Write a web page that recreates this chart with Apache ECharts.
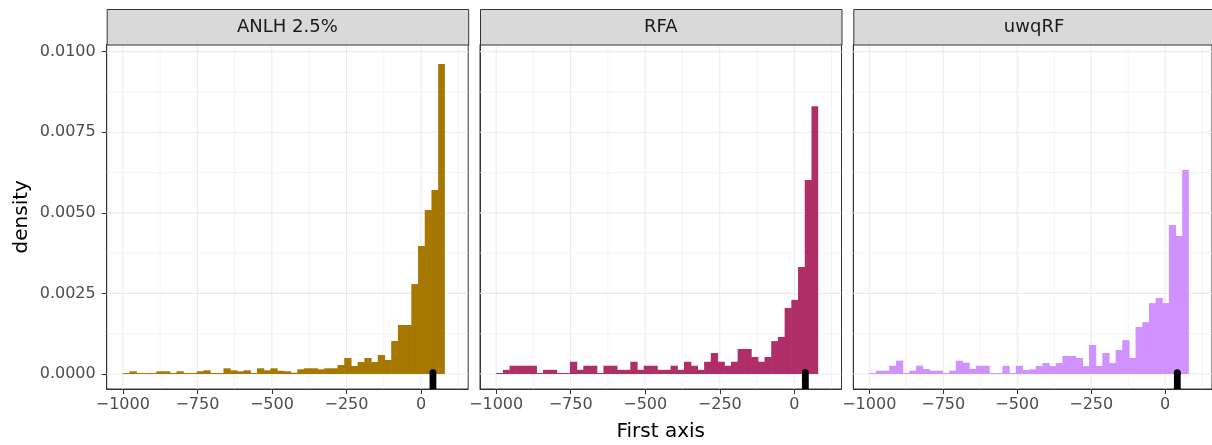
<!DOCTYPE html>
<html>
<head>
<meta charset="utf-8">
<script src="https://cdn.jsdelivr.net/npm/echarts@6/dist/echarts.min.js"></script>
<style>html,body{margin:0;padding:0;background:#fff;}#c{width:1212px;height:445px;}</style>
</head>
<body>
<div id="c"></div>
<script>
// ---- data ----
const panelNames = ['ANLH 2.5%', 'RFA', 'uwqRF'];
const binStart = -1000;
const binWidth = 22.5;
const densityANLH = [
  0.00003,0.000084,0.00003,0.00003,0.00003,0.000084,0.000084,0.00003,0.000084,0.00003,
  0.00003,0.000084,0.000115,0.00003,0.00003,0.000177,0.000115,0.000084,0.000115,0.00003,
  0.000177,0.000115,0.000177,0.0001,0.000084,0.00004,0.000146,0.000177,0.000177,0.000146,
  0.000177,0.000177,0.00028,0.000496,0.000248,0.000372,0.000496,0.000372,0.000589,0.000434,
  0.001024,0.00152,0.00152,0.00279,0.00397,0.00509,0.00571,0.00962
];
const densityRFA = [
  0.00003,0.00013,0.000257,0.000257,0.000257,0.000257,0.00003,0.00013,0.00013,0.00003,
  0.00003,0.00038,0.00013,0.000257,0.000257,0.00003,0.000257,0.000257,0.00013,0.00013,
  0.00038,0.00013,0.000257,0.000257,0.00013,0.00013,0.000257,0.00013,0.00038,0.000257,
  0.00013,0.00038,0.00065,0.00038,0.000257,0.00038,0.000776,0.000776,0.000527,0.00038,
  0.000527,0.00102,0.00115,0.00205,0.0023,0.00332,0.00602,0.00831
];
const densityUwqRF = [
  0.00003,0.000102,0.000102,0.000257,0.000413,0.00003,0.000102,0.000257,0.000155,0.000102,
  0.000102,0.00003,0.000102,0.000413,0.00035,0.000155,0.000257,0.000257,0.00003,0.00003,
  0.000257,0.00003,0.000257,0.000124,0.000146,0.000248,0.000341,0.000248,0.000341,0.000558,
  0.000558,0.000496,0.000248,0.0009,0.000248,0.000651,0.000341,0.000744,0.00105,0.000496,
  0.00146,0.00161,0.0022,0.00236,0.0022,0.00462,0.00428,0.00633
];
const markerX = [40, 37, 41];
const markerTop = 0.00004;
const xTicks = [-1000, -750, -500, -250, 0];
const xMinorTicks = [-875, -625, -375, -125, 125];
const yTicks = [0, 0.0025, 0.005, 0.0075, 0.01];
const yMinorTicks = [0.00125, 0.00375, 0.00625, 0.00875];

// ---- styling / layout ----
const colors = ['#A67800', '#B02E68', '#D092FF'];
const densities = [densityANLH, densityRFA, densityUwqRF];
const gridLefts = [106.7, 480, 853.3];
const gridWidth = 361.5;
const gridTop = 44.5;
const gridHeight = 344.5;
const xMin = -1054, xMax = 158.2;
const yMin = -0.000465, yMax = 0.010222;
const FONT = 'DejaVu Sans';

const chart = echarts.init(document.getElementById('c'), null, {renderer: 'canvas'});

const grids = [], xAxes = [], yAxes = [], series = [], graphics = [];

function gridLineSeries(i, values, vertical, width) {
  return {
    type: 'custom', xAxisIndex: i, yAxisIndex: i, z: 1, silent: true,
    data: values.map(v => vertical ? [v, 0] : [0, v]),
    renderItem: function (params, api) {
      const cs = params.coordSys;
      if (vertical) {
        const px = api.coord([api.value(0), 0])[0];
        return {type: 'line', shape: {x1: px, y1: cs.y, x2: px, y2: cs.y + cs.height},
          style: {stroke: '#EBEBEB', lineWidth: width}};
      } else {
        const py = api.coord([0, api.value(1)])[1];
        return {type: 'line', shape: {x1: cs.x, y1: py, x2: cs.x + cs.width, y2: py},
          style: {stroke: '#EBEBEB', lineWidth: width}};
      }
    }
  };
}

for (let i = 0; i < 3; i++) {
  grids.push({left: gridLefts[i], top: gridTop, width: gridWidth, height: gridHeight,
    show: true, borderColor: '#333333', borderWidth: 1, backgroundColor: '#ffffff', containLabel: false});
  xAxes.push({
    type: 'value', gridIndex: i, min: xMin, max: xMax, position: 'bottom',
    axisLine: {show: true, onZero: false, lineStyle: {color: '#333333', width: 1}},
    splitLine: {show: false},
    axisTick: {show: true, length: 5, lineStyle: {color: '#333333', width: 1}, customValues: xTicks},
    axisLabel: {show: true, customValues: xTicks, margin: 8, color: '#4D4D4D', fontSize: 16, fontFamily: FONT,
      formatter: v => (v < 0 ? '\u2212' + Math.abs(v) : String(v))}
  });
  yAxes.push({
    type: 'value', gridIndex: i, min: yMin, max: yMax, position: 'left',
    axisLine: {show: true, onZero: false, lineStyle: {color: '#333333', width: 1}},
    splitLine: {show: false},
    axisTick: {show: i === 0, length: 5, lineStyle: {color: '#333333', width: 1}, customValues: yTicks},
    axisLabel: {show: i === 0, customValues: yTicks, margin: 11, color: '#4D4D4D', fontSize: 16, fontFamily: FONT,
      formatter: v => v.toFixed(4)}
  });

  series.push(gridLineSeries(i, xMinorTicks, true, 0.6));
  series.push(gridLineSeries(i, yMinorTicks, false, 0.6));
  series.push(gridLineSeries(i, xTicks, true, 1.1));
  series.push(gridLineSeries(i, yTicks, false, 1.1));

  const col = colors[i];
  series.push({
    type: 'custom', xAxisIndex: i, yAxisIndex: i, z: 2, silent: true,
    data: densities[i].map((d, k) => [binStart + k * binWidth, binStart + (k + 1) * binWidth, d]),
    encode: {x: [0, 1], y: 2},
    renderItem: function (params, api) {
      const p0 = api.coord([api.value(0), api.value(2)]);
      const p1 = api.coord([api.value(1), 0]);
      const last = params.dataIndex === params.dataInsideLength - 1;
      return {type: 'rect', shape: {x: p0[0], y: p0[1], width: p1[0] - p0[0] + (last ? 0 : 0.6), height: p1[1] - p0[1]},
        style: {fill: col}};
    }
  });

  series.push({
    type: 'custom', xAxisIndex: i, yAxisIndex: i, z: 3, silent: true,
    data: [[markerX[i], markerTop]],
    renderItem: function (params, api) {
      const cs = params.coordSys;
      const p = api.coord([api.value(0), api.value(1)]);
      const r = 3.4;
      const bottom = cs.y + cs.height;
      return {type: 'group', children: [
        {type: 'rect', shape: {x: p[0] - r, y: p[1], width: 2 * r, height: bottom - p[1]}, style: {fill: '#000'}},
        {type: 'circle', shape: {cx: p[0], cy: p[1], r: r}, style: {fill: '#000'}}
      ]};
    }
  });

  // facet strip
  graphics.push({type: 'rect', left: gridLefts[i], top: 9,
    shape: {width: gridWidth, height: gridTop - 9}, z: 10,
    style: {fill: '#D9D9D9', stroke: '#333333', lineWidth: 1}});
  graphics.push({type: 'text', x: gridLefts[i] + gridWidth / 2, y: (9 + gridTop) / 2 + 1, z: 11,
    style: {text: panelNames[i], fill: '#1A1A1A', font: '18px "' + FONT + '"', textAlign: 'center', textVerticalAlign: 'middle'}});
}

// axis titles
graphics.push({type: 'text', x: (gridLefts[0] + gridLefts[2] + gridWidth) / 2, y: 432, z: 11,
  style: {text: 'First axis', fill: '#000', font: '20px "' + FONT + '"', textAlign: 'center', textVerticalAlign: 'middle'}});
graphics.push({type: 'text', x: 22, y: gridTop + gridHeight / 2, rotation: Math.PI / 2, z: 11,
  style: {text: 'density', fill: '#000', font: '20px "' + FONT + '"', textAlign: 'center', textVerticalAlign: 'middle'}});

chart.setOption({
  animation: false,
  backgroundColor: '#ffffff',
  grid: grids,
  xAxis: xAxes,
  yAxis: yAxes,
  series: series,
  graphic: {elements: graphics}
});
</script>
</body>
</html>
